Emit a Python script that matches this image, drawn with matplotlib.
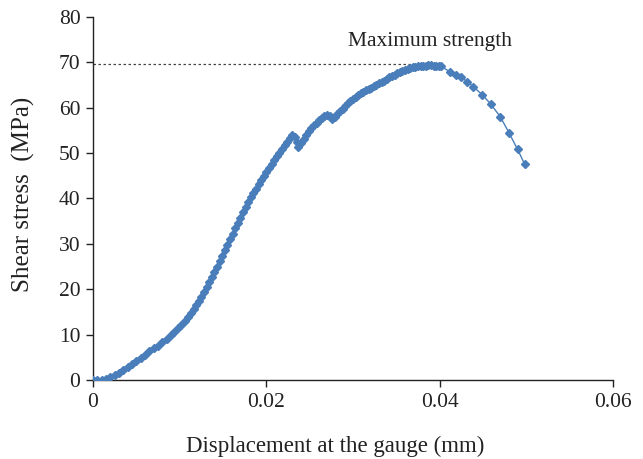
import matplotlib
matplotlib.use("Agg")
import matplotlib.pyplot as plt

# displacement at the gauge (mm) and shear stress (MPa)
disp = [
    0.0000, 0.0005, 0.0010, 0.0015, 0.0020, 0.0025, 0.0030, 0.0035, 0.0040, 0.0045,
    0.0050, 0.0055, 0.0060, 0.0065, 0.0070, 0.0075, 0.0080, 0.0085, 0.0090, 0.0094,
    0.0098, 0.0102, 0.0106, 0.0110, 0.0113, 0.0116, 0.0119, 0.0122, 0.0125, 0.0128,
    0.0131, 0.0134, 0.0137, 0.0140, 0.0143, 0.0146, 0.0149, 0.0152, 0.0155, 0.0158,
    0.0161, 0.0164, 0.0167, 0.0170, 0.0173, 0.0176, 0.0179, 0.0182, 0.0185, 0.0188,
    0.0191, 0.0194, 0.0197, 0.0200, 0.0203, 0.0206, 0.0209, 0.0212, 0.0215, 0.0218,
    0.0221, 0.0224, 0.0227, 0.0230, 0.0233, 0.0235, 0.0237, 0.0240, 0.0243, 0.0246,
    0.0249, 0.0252, 0.0255, 0.0258, 0.0261, 0.0264, 0.0267, 0.0270, 0.0273, 0.0276,
    0.0279, 0.0282, 0.0285, 0.0288, 0.0291, 0.0294, 0.0297, 0.0300, 0.0303, 0.0306,
    0.0309, 0.0312, 0.0315, 0.0318, 0.0321, 0.0324, 0.0327, 0.0330, 0.0333, 0.0336,
    0.0339, 0.0342, 0.0345, 0.0348, 0.0351, 0.0354, 0.0357, 0.0360, 0.0363, 0.0366,
    0.0369, 0.0372, 0.0375, 0.0378, 0.0381, 0.0384, 0.0387, 0.0390, 0.0393, 0.0396,
    0.0399, 0.0402, 0.0412, 0.0419, 0.0425, 0.0432, 0.0439, 0.0449, 0.0459, 0.0470,
    0.0480, 0.0490, 0.0498,
]
stress = [
    0.0, 0.05, 0.1, 0.3, 0.6, 1.0, 1.5, 2.2, 2.8, 3.5,
    4.2, 4.9, 5.6, 6.3, 7.0, 7.6, 8.3, 9.1, 9.9, 10.6,
    11.4, 12.2, 13.0, 13.9, 14.8, 15.6, 16.5, 17.4, 18.4, 19.4,
    20.5, 21.6, 22.7, 23.8, 25.0, 26.2, 27.4, 28.6, 29.8, 31.0,
    32.2, 33.4, 34.6, 35.8, 37.0, 38.1, 39.2, 40.3, 41.3, 42.2,
    43.1, 44.0, 44.9, 45.8, 46.7, 47.6, 48.5, 49.3, 50.1, 50.9,
    51.7, 52.5, 53.3, 54.0, 53.6, 52.4, 51.4, 52.2, 53.1, 54.0,
    54.8, 55.5, 56.1, 56.7, 57.2, 57.7, 58.1, 58.5, 58.2, 57.5,
    58.0, 58.6, 59.2, 59.8, 60.4, 61.0, 61.5, 62.0, 62.4, 62.8,
    63.2, 63.5, 63.8, 64.1, 64.4, 64.7, 65.0, 65.4, 65.7, 66.0,
    66.4, 66.7, 67.0, 67.3, 67.6, 67.9, 68.1, 68.3, 68.5, 68.7,
    68.9, 69.0, 69.1, 69.2, 69.3, 69.3, 69.4, 69.4, 69.3, 69.3,
    69.2, 69.1, 67.9, 67.2, 66.7, 65.7, 64.6, 62.9, 60.8, 58.0,
    54.5, 50.8, 47.6,
]
MAX_STRESS = 69.6
MAX_DISP = 0.0397
xticks = [0, 0.02, 0.04, 0.06]
xticklabels = ["0", "0.02", "0.04", "0.06"]
yticks = [0, 10, 20, 30, 40, 50, 60, 70, 80]

BLUE = "#4a7ebb"
INK = "#222222"

plt.rcParams["font.family"] = ["Liberation Serif", "DejaVu Serif"]

fig = plt.figure(figsize=(6.43, 4.59), dpi=100)
ax = fig.add_axes([0.1446, 0.1721, 0.8087, 0.7909])

ax.plot(disp, stress, color=BLUE, linewidth=1.0, marker="D", markersize=4.4,
        markerfacecolor=BLUE, markeredgecolor=BLUE, zorder=3)
ax.plot([0, MAX_DISP], [MAX_STRESS, MAX_STRESS], color="#444444", linewidth=0.9,
        linestyle=(0, (2, 2)), zorder=2)
ax.text(0.0389, 74.6, "Maximum strength", ha="center", va="center", fontsize=15.5,
        color=INK)

ax.set_xlim(0, 0.06)
ax.set_ylim(0, 80)
ax.set_xticks(xticks)
ax.set_xticklabels(xticklabels)
ax.set_yticks(yticks)
for s in ["top", "right"]:
    ax.spines[s].set_visible(False)
for s in ["left", "bottom"]:
    ax.spines[s].set_linewidth(1.0)
    ax.spines[s].set_color(INK)
ax.tick_params(direction="out", length=5, width=1.0, colors=INK,
               labelsize=15.5, pad=4)

ax.set_xlabel("Displacement at the gauge (mm)", fontsize=16.5, labelpad=14, color=INK)
ax.xaxis.set_label_coords(0.465, -0.155)
ax.set_ylabel("Shear stress  (MPa)", fontsize=18, color=INK)
ax.yaxis.set_label_coords(-0.112, 0.51)

fig.savefig("out.png", dpi=100)
